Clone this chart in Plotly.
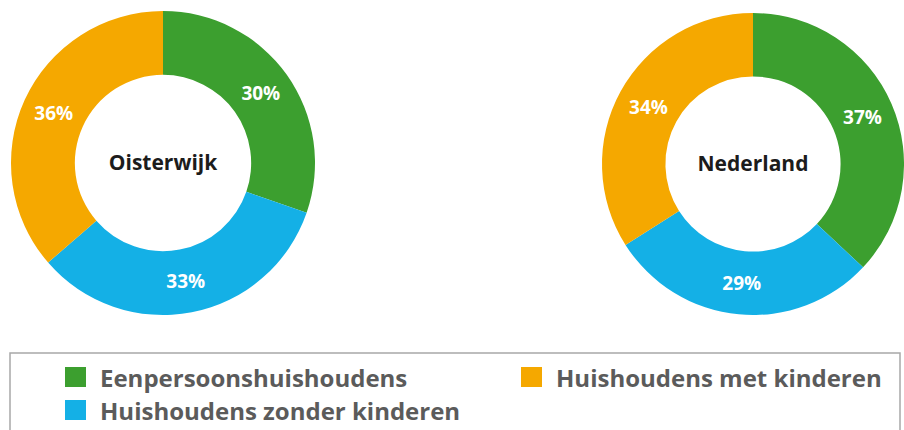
import plotly.graph_objects as go

# ---- data ----
categories = ["Eenpersoonshuishoudens", "Huishoudens zonder kinderen", "Huishoudens met kinderen"]
oisterwijk_values = [30, 33, 36]
nederland_values = [37, 29, 34]
regions = ["Oisterwijk", "Nederland"]
colors = ["#3c9f2f", "#14b0e6", "#f5a800"]

# ---- layout helpers (window pixels -> paper) ----
W, H = 904, 430


def px_x(x):
    return max(0.0, min(1.0, x / W))


def px_y(y):
    return 1 - y / H


fig = go.Figure()


def add_donut(values, name, cx, cy, r):
    fig.add_trace(go.Pie(
        labels=categories,
        values=values,
        text=[f"{v}%" for v in values],
        textinfo="text",
        textposition="inside",
        insidetextorientation="horizontal",
        hole=0.58,
        sort=False,
        direction="clockwise",
        rotation=0,
        marker=dict(colors=colors, line=dict(width=0)),
        textfont=dict(color="white", size=19, family="Open Sans", weight="bold"),
        domain=dict(x=[px_x(cx - r), px_x(cx + r)], y=[px_y(cy + r), px_y(cy - r)]),
        title=dict(text=name, position="middle center",
                   font=dict(size=21, color="#1c1c1c", family="Open Sans", weight="bold")),
        showlegend=False,
        hoverinfo="label+text",
        name=name,
    ))


add_donut(oisterwijk_values, regions[0], 163, 163, 152)
add_donut(nederland_values, regions[1], 753, 164, 151)

# ---- legend box (drawn) ----
shapes = [dict(type="rect", xref="paper", yref="paper",
               x0=px_x(10), x1=px_x(900), y0=px_y(470), y1=px_y(353),
               line=dict(color="#a8a8a8", width=1.5), fillcolor="white", layer="below")]
annotations = []
slots = [(65, 367), (65, 400), (521, 367)]
for cat, col, (sx, sy) in zip(categories, colors, slots):
    shapes.append(dict(type="rect", xref="paper", yref="paper",
                       x0=px_x(sx), x1=px_x(sx + 21), y0=px_y(sy + 20), y1=px_y(sy),
                       line=dict(width=0), fillcolor=col))
    annotations.append(dict(text=cat, xref="paper", yref="paper",
                            x=px_x(sx + 33), y=px_y(sy + 10), xanchor="left", yanchor="middle",
                            showarrow=False,
                            font=dict(size=24, color="#5b5b5b", family="Open Sans", weight="bold")))

fig.update_layout(
    width=W, height=H,
    margin=dict(l=0, r=0, t=0, b=0),
    paper_bgcolor="white",
    plot_bgcolor="white",
    shapes=shapes,
    annotations=annotations,
    showlegend=False,
)

fig.write_html("out.html",
               config={"displayModeBar": False},
               post_script="document.body.style.margin='0';document.body.style.overflow='hidden';")
